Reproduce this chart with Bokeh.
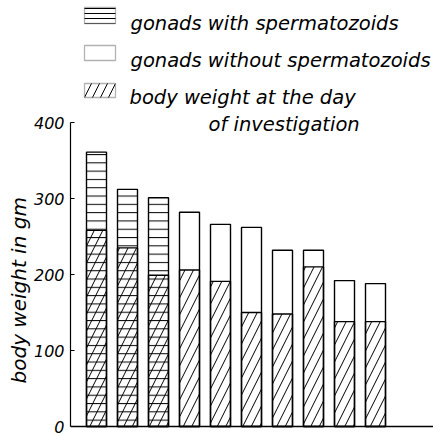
from bokeh.plotting import figure
from bokeh.models import ColumnDataSource, Label, Span, FixedTicker, Range1d, BoxAnnotation, Title
from bokeh.embed import file_html
from bokeh.resources import INLINE

# ---------------- data ----------------
animals = [str(i) for i in range(1, 11)]
total_weight = [361, 312, 301, 282, 266, 262, 232, 232, 192, 188]
body_weight = [258, 235, 199, 206, 191, 150, 148, 210, 138, 138]
with_sperm = [True, True, True, False, False, False, False, False, False, False]
y_ticks = [0, 100, 200, 300, 400]
legend_labels = ["gonads with spermatozoids", "gonads without spermatozoids",
                 "body weight at the day", "of investigation"]
y_axis_title = "body weight in gm"

# ---------------- layout ----------------
W, H = 433, 435
OFF = 0                          # page offset observed
LEFT = 70
FRAME_W = W - LEFT
PX_X = 31.0                      # pixels per bar slot
X_START = 1 - 26 / PX_X
X_END = X_START + FRAME_W / PX_X
Y0_PX, Y400_PX = 426, 122
PX_Y = (Y0_PX - Y400_PX) / 400
Y_END = 400 + Y400_PX / PX_Y
Y_START = Y_END - H / PX_Y
FONT = "DejaVu Sans"


def img_x(px):
    return X_START + (px - OFF - LEFT) / PX_X


def img_y(py):
    return Y_END - (py - OFF) / PX_Y


x_pos = list(range(1, len(animals) + 1))
src = ColumnDataSource(dict(
    x=x_pos,
    total=total_weight,
    body=body_weight,
    hatch=["-" if s else " " for s in with_sperm],
))

p = figure(width=W, height=H, output_backend="svg", toolbar_location=None,
           x_range=Range1d(X_START, X_END), y_range=Range1d(Y_START, Y_END),
           min_border_left=LEFT, min_border_right=0, min_border_top=0,
           min_border_bottom=0, background_fill_color="white",
           border_fill_color="white")
p.outline_line_color = None
p.grid.visible = False
p.xaxis.visible = False

# whole bars (gonads part hatched horizontally when spermatozoids present)
p.vbar(x="x", top="total", bottom=0, width=20 / PX_X, source=src,
       fill_color="white", line_color="black", line_width=1.4,
       hatch_pattern="hatch", hatch_color="black", hatch_scale=8.3,
       hatch_weight=1)
# body weight part, diagonal hatch
p.vbar(x="x", top="body", bottom=0, width=20 / PX_X, source=src,
       fill_alpha=0, line_color="black", line_width=1.4,
       hatch_pattern="/", hatch_color="black", hatch_scale=17,
       hatch_weight=1)

p.add_layout(Span(location=0, dimension="width", line_color="black",
                  line_width=1.4))

ax = p.yaxis[0]
ax.ticker = FixedTicker(ticks=y_ticks)
ax.bounds = (0, 400)
ax.minor_tick_line_color = None
ax.major_tick_in = 4
ax.major_tick_out = 0
ax.major_label_standoff = 6
ax.major_label_text_font = FONT
ax.major_label_text_font_style = "italic"
ax.major_label_text_font_size = "16px"
ax.major_label_text_color = "black"
ax.axis_line_color = "black"
ax.axis_line_width = 1.2
ax.major_tick_line_color = "black"

# axis title as a side title, starting near the bottom of the bars
p.add_layout(Title(text=y_axis_title, align="left", offset=H - 383,
                   standoff=0, text_font=FONT, text_font_style="italic",
                   text_font_size="20px", text_color="black"), "left")

# legend
box_rows = [(7, 23, "-", 5), (45, 60, " ", 5), (83, 97, "/", 16)]
for top, bot, hp, hs in box_rows:
    p.add_layout(BoxAnnotation(left=img_x(84), right=img_x(115),
                               top=img_y(top), bottom=img_y(bot),
                               fill_color="white", fill_alpha=1,
                               line_color="black", line_width=1.3,
                               hatch_pattern=hp, hatch_color="black",
                               hatch_scale=hs, hatch_weight=1))
text_pos = [(130, 22.5), (130, 60), (129, 97), (208, 124)]
for (tx, ty), t in zip(text_pos, legend_labels):
    p.add_layout(Label(x=img_x(tx), y=img_y(ty), text=t,
                       text_align="left", text_baseline="alphabetic",
                       text_font=FONT, text_font_style="italic",
                       text_font_size="19.5px", text_color="black"))

open("out.html", "w").write(file_html(p, INLINE))
